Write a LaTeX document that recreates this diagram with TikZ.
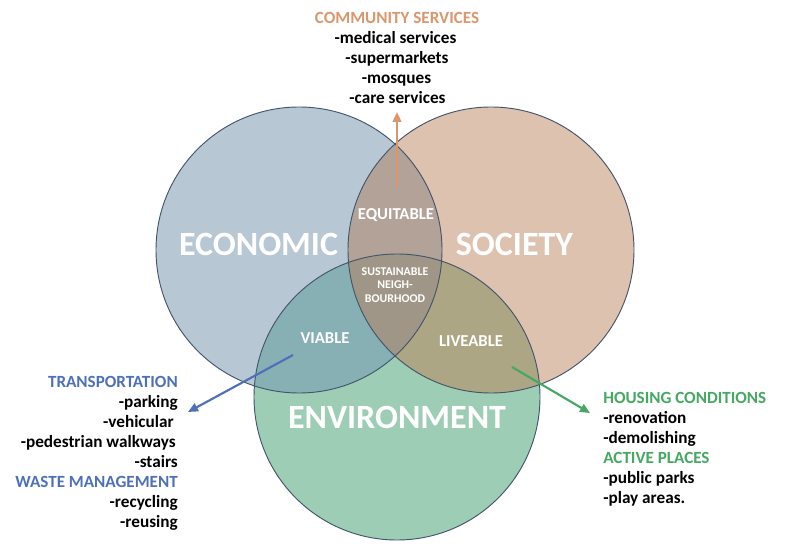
\documentclass[tikz,border=0pt]{standalone}
\usepackage{fontspec}
\setmainfont{Carlito}
\usetikzlibrary{arrows.meta}
\definecolor{econ}{RGB}{184,199,212}
\definecolor{soc}{RGB}{222,194,176}
\definecolor{env}{RGB}{157,205,180}
\definecolor{es}{RGB}{178,162,152}
\definecolor{ee}{RGB}{135,176,180}
\definecolor{se}{RGB}{172,166,132}
\definecolor{all}{RGB}{160,150,135}
\definecolor{rim}{RGB}{68,84,106}
\definecolor{orangeC}{RGB}{218,150,108}
\definecolor{blueC}{RGB}{78,112,184}
\definecolor{greenC}{RGB}{70,168,98}
\tikzset{
  rad/.style={radius=107.25pt},
  rimline/.style={draw=rim, line width=0.7pt},
  biglabel/.style={text=white, font=\bfseries\fontsize{25.5}{30}\selectfont, inner sep=0pt},
  midlabel/.style={text=white, font=\bfseries\fontsize{12.5}{15}\selectfont, inner sep=0pt},
  smalllabel/.style={text=white, font=\bfseries\fontsize{8.9}{10.5}\selectfont, inner sep=0pt},
  listtitle/.style={font=\bfseries\fontsize{12.8}{15}\selectfont, inner sep=0pt},
  listitem/.style={text=black, font=\bfseries\fontsize{12.9}{15}\selectfont, inner sep=0pt},
  pointer/.style={line width=1.6pt, -{Triangle[length=7.5pt, width=6.5pt]}}
}
\begin{document}
\begin{tikzpicture}[x=0.75pt,y=-0.75pt]
\useasboundingbox (0,0) rectangle (800,549);
\coordinate (cE) at (299,250);
\coordinate (cS) at (491,250);
\coordinate (cN) at (397,397);
% base circles
\fill[econ] (cE) circle[rad];
\fill[soc] (cS) circle[rad];
\fill[env] (cN) circle[rad];
% pairwise overlaps
\begin{scope}
  \clip (cE) circle[rad];
  \fill[es] (cS) circle[rad];
  \fill[ee] (cN) circle[rad];
\end{scope}
\begin{scope}
  \clip (cS) circle[rad];
  \fill[se] (cN) circle[rad];
\end{scope}
\begin{scope}
  \clip (cE) circle[rad];
  \clip (cS) circle[rad];
  \fill[all] (cN) circle[rad];
\end{scope}
% outlines
\draw[rimline] (cE) circle[rad];
\draw[rimline] (cS) circle[rad];
\draw[rimline] (cN) circle[rad];
% labels in circles
\node[biglabel] (economic) at (258.5,244) {ECONOMIC};
\node[biglabel] (society) at (514.5,244) {SOCIETY};
\node[biglabel] (environment) at (397,417.5) {ENVIRONMENT};
\node[midlabel] (equitable) at (396,215) {EQUITABLE};
\node[midlabel] (viable) at (325,338) {VIABLE};
\node[midlabel] (liveable) at (471,341) {LIVEABLE};
\node[smalllabel, anchor=base] (sus1) at (395,275) {SUSTAINABLE};
\node[smalllabel, anchor=base] (sus2) at (395,288.5) {NEIGH-};
\node[smalllabel, anchor=base] (sus3) at (395,302) {BOURHOOD};
% arrows
\coordinate (oA) at (397,186);
\coordinate (oB) at (397,112);
\coordinate (bA) at (293,355);
\coordinate (bB) at (188,412);
\coordinate (gA) at (512,367);
\coordinate (gB) at (590,413);
\draw[pointer, draw=orangeC, fill=orangeC] (oA) -- (oB);
\draw[pointer, draw=blueC, fill=blueC] (bA) -- (bB);
\draw[pointer, draw=greenC, fill=greenC] (gA) -- (gB);
% top list
\node[listtitle, text=orangeC, anchor=base] (cs) at (397,23.5) {COMMUNITY SERVICES};
\node[listitem, anchor=base] (t1) at (395.5,43.5) {-medical services};
\node[listitem, anchor=base] (t2) at (397,63.5) {-supermarkets};
\node[listitem, anchor=base] (t3) at (396.5,83.5) {-mosques};
\node[listitem, anchor=base] (t4) at (397.5,103.5) {-care services};
% left list
\node[listtitle, text=blueC, anchor=base east] (tr) at (178,387.5) {TRANSPORTATION};
\node[listitem, anchor=base east] (l1) at (178,407.5) {-parking};
\node[listitem, anchor=base east] (l2) at (174,427.5) {-vehicular};
\node[listitem, anchor=base east] (l3) at (176,447.5) {-pedestrian walkways};
\node[listitem, anchor=base east] (l4) at (178,467.5) {-stairs};
\node[listtitle, text=blueC, anchor=base east] (wm) at (178,487.5) {WASTE MANAGEMENT};
\node[listitem, anchor=base east] (l5) at (178,507.5) {-recycling};
\node[listitem, anchor=base east] (l6) at (178,527.5) {-reusing};
% right list
\node[listtitle, text=greenC, anchor=base west] (hc) at (603,403.5) {HOUSING CONDITIONS};
\node[listitem, anchor=base west] (r1) at (603,423.5) {-renovation};
\node[listitem, anchor=base west] (r2) at (603,443.5) {-demolishing};
\node[listtitle, text=greenC, anchor=base west] (ap) at (603,463.5) {ACTIVE PLACES};
\node[listitem, anchor=base west] (r3) at (603,483.5) {-public parks};
\node[listitem, anchor=base west] (r4) at (603,503.5) {-play areas.};
\end{tikzpicture}
\end{document}
